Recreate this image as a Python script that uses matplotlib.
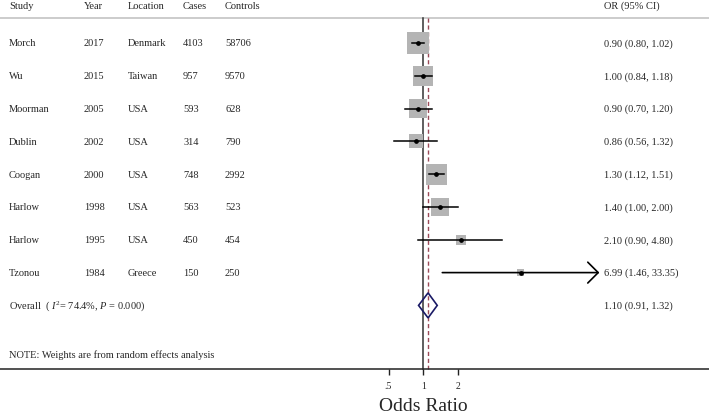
import numpy as np
import matplotlib
matplotlib.use("Agg")
import matplotlib.pyplot as plt
from matplotlib.patches import Polygon
from matplotlib.transforms import blended_transform_factory

# study table
studies = ["Morch", "Wu", "Moorman", "Dublin", "Coogan", "Harlow", "Harlow", "Tzonou"]
years = [2017, 2015, 2005, 2002, 2000, 1998, 1995, 1984]
locations = ["Denmark", "Taiwan", "USA", "USA", "USA", "USA", "USA", "Greece"]
cases = [4103, 957, 593, 314, 748, 563, 450, 150]
controls = [58706, 9570, 628, 790, 2992, 523, 454, 250]

# odds ratios and 95% CI
or_est = [0.90, 1.00, 0.90, 0.86, 1.30, 1.40, 2.10, 6.99]
ci_low = [0.80, 0.84, 0.70, 0.56, 1.12, 1.00, 0.90, 1.46]
ci_high = [1.02, 1.18, 1.20, 1.32, 1.51, 2.00, 4.80, 33.35]
# random effects weights (%)
weights = [20.6, 17.0, 15.3, 8.3, 18.7, 13.8, 4.2, 2.1]

overall_est, overall_low, overall_high = 1.10, 0.91, 1.32
i_squared = 74.4
p_value = 0.000

tick_vals = [0.5, 1, 2]
tick_labels = [".5", "1", "2"]

plt.rcParams["font.family"] = ["Liberation Serif", "DejaVu Serif"]
plt.rcParams["mathtext.fontset"] = "custom"
plt.rcParams["mathtext.rm"] = "Liberation Serif"
plt.rcParams["mathtext.it"] = "Liberation Serif:italic"
plt.rcParams["text.color"] = "#262626"

W, H = 709, 414
fig = plt.figure(figsize=(W / 100, H / 100), dpi=100)
ax = fig.add_axes([0, 0, 1, 1])

# layout in pixels
row0_px, row_step_px = 44, 32.8
px_per_octave = 34.8
one_px = 423.3
ax.set_xscale("log", base=2)
ax.set_xlim(2 ** (-one_px / px_per_octave), 2 ** ((W - one_px) / px_per_octave))


def px_to_row(py):
    return (py - row0_px) / row_step_px


ax.set_ylim(px_to_row(H), px_to_row(0))

header_y = px_to_row(6.5)
header_line_y = px_to_row(19)
axis_y = px_to_row(370)
overall_y = len(studies)
note_y = px_to_row(355)

tr = blended_transform_factory(ax.transAxes, ax.transData)
col_x = [9 / W, 84 / W, 128 / W, 183 / W, 225 / W]
or_x = 604 / W
fs = 7.5

# header
for x, lab in zip(col_x, ["Study", "Year", "Location", "Cases", "Controls"]):
    ax.text(x, header_y, lab, transform=tr, fontsize=fs, va="center", ha="left")
ax.text(or_x, header_y, "OR (95% CI)", transform=tr, fontsize=fs, va="center", ha="left")
ax.axhline(header_line_y, color="#c4c4c4", lw=1.2, zorder=1)

# reference lines
ax.plot([1, 1], [header_line_y, axis_y], color="#333333", lw=1.1, zorder=1)
ax.plot([overall_est, overall_est], [header_line_y, axis_y], color="#9a4a58",
        lw=1.0, ls=(0, (3, 2)), zorder=1)

rows = np.arange(len(studies))
for i in rows:
    vals = [studies[i], str(years[i]), locations[i], str(cases[i]), str(controls[i])]
    for x, v in zip(col_x, vals):
        ax.text(x, i, v, transform=tr, fontsize=fs, va="center", ha="left")
    ax.text(or_x, i, f"{or_est[i]:.2f} ({ci_low[i]:.2f}, {ci_high[i]:.2f})",
            transform=tr, fontsize=fs, va="center", ha="left")

# weight boxes
side_px = 4.85 * np.sqrt(weights)
ax.scatter(or_est, rows, s=(side_px * 0.72) ** 2, marker="s", color="#b4b4b4",
           edgecolors="none", zorder=2)

# confidence intervals
for i in rows:
    if ci_high[i] > 20:
        ax.annotate("", xy=(ci_high[i], i), xytext=(ci_low[i], i),
                    arrowprops=dict(arrowstyle="->,head_length=0.75,head_width=0.75",
                                    lw=1.2, color="black", shrinkA=0, shrinkB=0,
                                    mutation_scale=10), zorder=3)
    else:
        ax.plot([ci_low[i], ci_high[i]], [i, i], color="black", lw=1.1, zorder=3)
ax.plot(or_est, rows, "o", color="black", ms=2.4, zorder=4)

# overall diamond
half_h = 12.5 / row_step_px
diamond = Polygon([(overall_low, overall_y), (overall_est, overall_y - half_h),
                   (overall_high, overall_y), (overall_est, overall_y + half_h)],
                  closed=True, fill=False, edgecolor="#1a1a66", lw=1.2, zorder=4)
ax.add_patch(diamond)
ax.text(col_x[0], overall_y,
        "Overall  ( $I^{2}$= " + f"{i_squared:.1f}%, " + "$P$" + f" = {p_value:.3f})",
        transform=tr, fontsize=fs, va="center", ha="left")
ax.text(or_x, overall_y, f"{overall_est:.2f} ({overall_low:.2f}, {overall_high:.2f})",
        transform=tr, fontsize=fs, va="center", ha="left")

ax.text(col_x[0], note_y, "NOTE: Weights are from random effects analysis",
        transform=tr, fontsize=fs, va="center", ha="left")

# bottom axis
for s in ["top", "left", "right"]:
    ax.spines[s].set_visible(False)
ax.spines["bottom"].set_position(("axes", (H - 370) / H))
ax.spines["bottom"].set_linewidth(1.1)
ax.spines["bottom"].set_color("#222222")
ax.set_yticks([])
ax.set_xticks(tick_vals)
ax.set_xticklabels(tick_labels)
ax.xaxis.set_minor_locator(matplotlib.ticker.NullLocator())
ax.tick_params(axis="x", direction="out", length=4.5, width=1.0, color="#222222",
               labelsize=7, labelcolor="#262626", pad=4)

trx = blended_transform_factory(ax.transData, ax.transAxes)
ax.text(1, (H - 407) / H, "Odds Ratio", transform=trx, fontsize=14,
        ha="center", va="center")

fig.savefig("out.png", dpi=100)
